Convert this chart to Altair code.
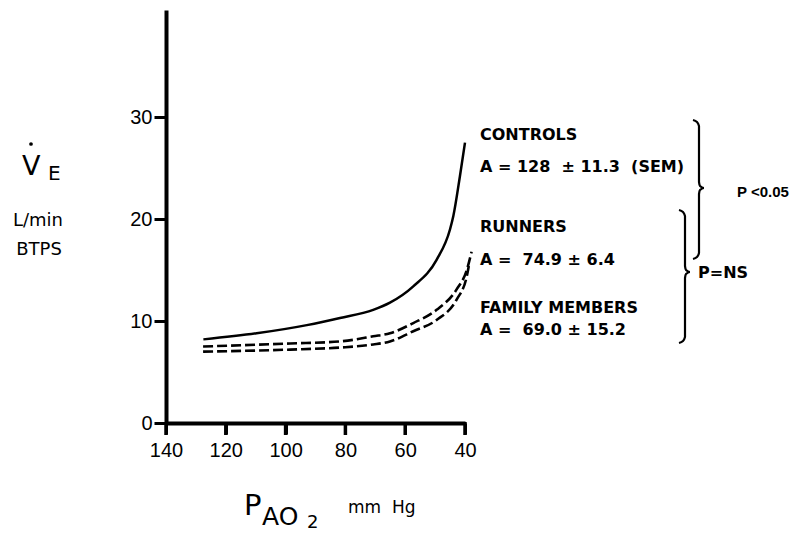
import altair as alt
import pandas as pd

# ---- data ----
controls_p = [127.5, 109.7, 92.9, 81.8, 70.7, 65.1, 57.3, 49.5, 45.0, 43.9, 41.7, 40.0]
controls_v = [8.2, 8.8, 9.6, 10.3, 11.1, 11.8, 13.4, 16.0, 19.0, 20.3, 24.2, 27.5]
runners_p = [127.6, 98.5, 81.8, 70.7, 65.1, 57.3, 49.5, 42.8, 39.4, 37.8]
runners_v = [7.5, 7.8, 8.0, 8.5, 8.8, 9.8, 11.1, 13.1, 15.0, 16.8]
family_p = [127.6, 98.5, 81.8, 70.7, 65.1, 57.3, 49.5, 42.8, 39.4, 38.6]
family_v = [7.0, 7.2, 7.4, 7.7, 8.0, 9.0, 10.1, 12.1, 14.4, 15.6]
x_ticks = [140, 120, 100, 80, 60, 40]
y_ticks = [0, 10, 20, 30]
NB = "\u00a0"
group_labels = ["CONTROLS", "RUNNERS", "FAMILY MEMBERS"]
group_stats = ["A = 128" + NB * 2 + "± 11.3" + NB * 2 + "(SEM)", "A =" + NB * 2 + "74.9 ± 6.4",
               "A =" + NB * 2 + "69.0 ± 15.2"]

# ---- layout (pixels) ----
LEFT, TOP, W, H = 166, 10, 299, 413
X_DOM = [140, 40]
Y_DOM = [0, 40.5]


def dx(px):
    return X_DOM[0] + (px - LEFT) / W * (X_DOM[1] - X_DOM[0])


def dy(py):
    return Y_DOM[0] + (TOP + H - py) / H * (Y_DOM[1] - Y_DOM[0])


xs = alt.Scale(domain=X_DOM, nice=False, zero=False)
ys = alt.Scale(domain=Y_DOM, nice=False, zero=False)

x_axis = alt.Axis(values=x_ticks, title=None, grid=False, domainWidth=4, domainColor="black",
                  ticks=True, tickWidth=3, tickColor="black", tickSize=11, tickOpacity=1,
                  labelFont="Liberation Sans", labelFontSize=20, labelColor="black",
                  labelPadding=6, labelFlush=False, labelOverlap=False)
y_axis = alt.Axis(values=y_ticks, title=None, grid=False, domainWidth=4, domainColor="black",
                  ticks=True, tickWidth=3, tickColor="black", tickSize=12, tickOpacity=1,
                  labelFont="Liberation Sans", labelFontSize=20, labelColor="black",
                  labelPadding=2, labelOverlap=False)


def X(f):
    return alt.X(f, scale=xs, axis=x_axis)


def Y(f):
    return alt.Y(f, scale=ys, axis=y_axis)


def curve_df(p, v):
    return pd.DataFrame({"x": p, "y": v, "i": list(range(len(p)))})


controls = alt.Chart(curve_df(controls_p, controls_v)).mark_line(
    color="black", strokeWidth=2.5, interpolate="monotone"
).encode(x=X("x:Q"), y=Y("y:Q"), order="i:Q")

runners = alt.Chart(curve_df(runners_p, runners_v)).mark_line(
    color="black", strokeWidth=2.6, strokeDash=[10, 4], interpolate="monotone"
).encode(x=X("x:Q"), y=Y("y:Q"), order="i:Q")

family = alt.Chart(curve_df(family_p, family_v)).mark_line(
    color="black", strokeWidth=2.6, strokeDash=[10, 4], interpolate="monotone"
).encode(x=X("x:Q"), y=Y("y:Q"), order="i:Q")

# x-axis tick marks drawn as short rules below the axis line (at the tick values)
xtick_marks = alt.Chart(pd.DataFrame({"x": x_ticks})).mark_rule(
    color="black", strokeWidth=3.5
).encode(x=X("x:Q"), y=alt.value(H - 1), y2=alt.value(H + 12))


# ---- braces ----
def brace(bid, xv, top, mid, bot):
    pts = [(xv - 6, top - 2), (xv - 2, top), (xv, top + 4), (xv, mid - 6), (xv + 1, mid - 2),
           (xv + 5, mid), (xv + 1, mid + 2), (xv, mid + 6), (xv, bot - 4), (xv - 2, bot),
           (xv - 6, bot + 2)]
    return [{"b": bid, "i": k, "x": dx(a), "y": dy(c)} for k, (a, c) in enumerate(pts)]


brace_df = pd.DataFrame(brace("b1", 699, 122, 188, 257) + brace("b2", 685, 212, 272, 341))
braces = alt.Chart(brace_df).mark_line(color="black", strokeWidth=2.2, interpolate="monotone").encode(
    x=X("x:Q"), y=Y("y:Q"), detail="b:N", order="i:Q")


def text_layer(rows, font, size, weight="normal", align="left"):
    df = pd.DataFrame([{"x": dx(a), "y": dy(b), "t": t} for t, a, b in rows])
    return alt.Chart(df).mark_text(font=font, fontSize=size, fontWeight=weight, align=align,
                                   baseline="alphabetic", color="black").encode(
        x=X("x:Q"), y=Y("y:Q"), text="t:N")


labels = text_layer([
    (group_labels[0], 480, 140), (group_stats[0], 480, 172),
    (group_labels[1], 480, 232), (group_stats[1], 480, 265),
    (group_labels[2], 480, 313), (group_stats[2], 480, 335),
    ("P=NS", 698, 278),
], "DejaVu Sans", 16, "bold")

pval = text_layer([("P <0.05", 737, 197)], "Liberation Sans", 15, "bold")

v_big = text_layer([("V", 22, 175)], "DejaVu Sans", 27)
v_sub = text_layer([("E", 48, 180)], "DejaVu Sans", 20)
units = text_layer([("L/min", 38, 226), ("BTPS", 39, 255)], "DejaVu Sans", 18, align="center")
p_big = text_layer([("P", 244, 515)], "DejaVu Sans", 29)
p_sub = text_layer([("AO", 262, 525)], "DejaVu Sans", 25)
p_sub2 = text_layer([("2", 307, 528)], "DejaVu Sans", 18)
mmhg = text_layer([("mm" + NB * 2 + "Hg", 348, 513)], "DejaVu Sans", 17)

dot = alt.Chart(pd.DataFrame({"x": [dx(31)], "y": [dy(144)]})).mark_circle(
    color="black", size=14, opacity=1).encode(x=X("x:Q"), y=Y("y:Q"))

chart = alt.layer(
    controls, runners, family, xtick_marks, braces, labels, pval, v_big, v_sub, units,
    p_big, p_sub, p_sub2, mmhg, dot
).properties(
    width=W, height=H,
    autosize=alt.AutoSizeParams(type="none"),
    padding={"left": LEFT, "top": TOP, "right": 791 - LEFT - W, "bottom": 533 - TOP - H},
).configure(background="white", view=alt.ViewConfig(stroke=None))

chart.save("out.html", embed_options={"renderer": "svg", "actions": False})
